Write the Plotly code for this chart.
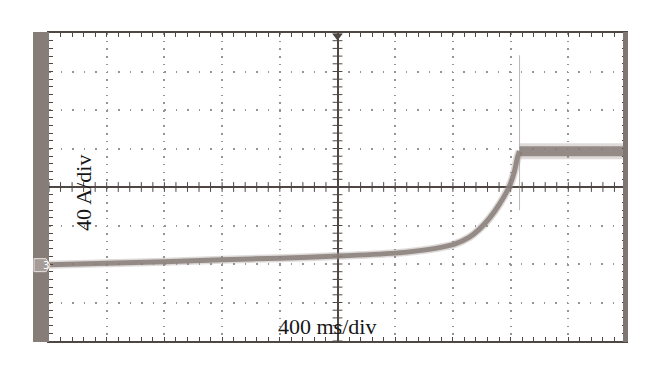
import numpy as np
import plotly.graph_objects as go

# ---- data ----
A_PER_DIV = 40          # A/div
MS_PER_DIV = 400        # ms/div
GROUND_DIV = -2.03      # channel-3 ground marker position (div from centre)

time_ms = [-2000, -1600, -1200, -800, -400, 0, 400, 568, 707, 811, 915, 984,
           1054, 1123, 1192, 1227, 1248, 1262]
current_a = [0.5, 2.1, 3.6, 5.7, 7.3, 9.4, 12.5, 15.1, 18.2, 21.8, 29.1, 37.4,
             48.8, 63.4, 82.1, 97.7, 112.2, 118.4]
steady_time_ms = [1262, 2000]
steady_current_a = [118.4, 118.4]
spike_time_ms = [1262, 1262]
spike_current_a = [57, 218]

off = GROUND_DIV * A_PER_DIV
y_ramp = [c + off for c in current_a]
y_steady = [c + off for c in steady_current_a]
y_spike = [c + off for c in spike_current_a]

XR = [-5 * MS_PER_DIV, 5 * MS_PER_DIV]
YR = [-4 * A_PER_DIV, 4 * A_PER_DIV]

AX = "#4f4744"
GRID = "#9b9391"
TRACE_CORE = "rgba(135,125,120,0.85)"
TRACE_HALO = "rgba(160,150,146,0.35)"

fig = go.Figure()

# centre crosshair tick marks
cx = np.arange(XR[0], XR[1] + 1, MS_PER_DIV / 5)
cy = np.arange(YR[0], YR[1] + 1, A_PER_DIV / 5)
fig.add_trace(go.Scatter(x=cx, y=np.zeros_like(cx), mode="markers",
                         marker=dict(symbol="line-ns", size=7, line=dict(width=1, color=AX)),
                         hoverinfo="skip", showlegend=False))
fig.add_trace(go.Scatter(x=np.zeros_like(cy), y=cy, mode="markers",
                         marker=dict(symbol="line-ew", size=7, line=dict(width=1, color=AX)),
                         hoverinfo="skip", showlegend=False))

# trace: halo + core
fig.add_trace(go.Scatter(x=time_ms, y=y_ramp, mode="lines",
                         line=dict(color=TRACE_HALO, width=8, shape="spline", smoothing=0.6),
                         hoverinfo="skip", showlegend=False))
fig.add_trace(go.Scatter(x=time_ms, y=y_ramp, mode="lines",
                         line=dict(color=TRACE_CORE, width=5, shape="spline", smoothing=0.6),
                         showlegend=False))
fig.add_trace(go.Scatter(x=spike_time_ms, y=y_spike, mode="lines",
                         line=dict(color="rgba(150,140,135,0.6)", width=1),
                         hoverinfo="skip", showlegend=False))
fig.add_trace(go.Scatter(x=steady_time_ms, y=y_steady, mode="lines",
                         line=dict(color=TRACE_HALO, width=16),
                         hoverinfo="skip", showlegend=False))
fig.add_trace(go.Scatter(x=steady_time_ms, y=y_steady, mode="lines",
                         line=dict(color=TRACE_CORE, width=10),
                         showlegend=False))

# trigger marker at top centre
fig.add_trace(go.Scatter(x=[0], y=[YR[1] - 3], mode="markers", cliponaxis=False,
                         marker=dict(symbol="triangle-down", size=9, color=AX),
                         hoverinfo="skip", showlegend=False))

axis_common = dict(showticklabels=False, showline=True, linecolor=AX, linewidth=1.5,
                   mirror="ticks", ticks="inside", ticklen=4, tickcolor=AX, tickwidth=1,
                   showgrid=True, gridcolor=GRID, gridwidth=1.5,
                   zeroline=True, zerolinecolor=AX, zerolinewidth=1.5, fixedrange=True)

fig.update_xaxes(range=XR, dtick=MS_PER_DIV, tick0=0, griddash="1.5px,6.2px",
                 minor=dict(dtick=MS_PER_DIV / 5, ticks="inside", ticklen=4, tickcolor=AX,
                            showgrid=False),
                 **axis_common)
fig.update_yaxes(range=YR, dtick=A_PER_DIV, tick0=0, griddash="1.5px,10px",
                 minor=dict(dtick=A_PER_DIV / 5, ticks="inside", ticklen=4, tickcolor=AX,
                            showgrid=False),
                 **axis_common)

W = 577.0
H = 308.0
shapes = [
    # left grey band
    dict(type="rect", xref="paper", yref="paper", x0=-16 / W, x1=0, y0=-1 / H, y1=1 + 1 / H,
         fillcolor="#877d78", line=dict(width=0), layer="above"),
    # right grey band
    dict(type="rect", xref="paper", yref="paper", x0=-3 / W + 1, x1=1 + 2 / W, y0=-1 / H, y1=1 + 1 / H,
         fillcolor="#7f7672", line=dict(width=0), layer="above"),
]
# channel 3 ground badge
gy = GROUND_DIV * A_PER_DIV
dy = 6.5 / 38.5 * A_PER_DIV
x0 = -15 / W
x1 = -3 / W
x2 = 1 / W
shapes.append(dict(type="path", xref="paper", yref="y",
                   path=f"M{x0},{gy - dy} L{x1},{gy - dy} L{x2},{gy} L{x1},{gy + dy} L{x0},{gy + dy} Z",
                   fillcolor="#a59c98", line=dict(color="#e8e4e2", width=1), layer="above"))

# page body has an 8px margin, so the figure is 8px smaller on the left/top
fig.update_layout(
    width=652, height=366,
    margin=dict(l=41, r=34, t=25, b=33),
    paper_bgcolor="white", plot_bgcolor="white",
    shapes=shapes,
    annotations=[
        dict(text="3", xref="paper", yref="y", x=-8 / W, y=gy, showarrow=False,
             font=dict(family="DejaVu Sans", size=10, color="white")),
        dict(text="40 A/div", xref="paper", yref="paper", x=(84 - 49) / W, y=(341 - 193) / H,
             xanchor="center", yanchor="middle",
             textangle=-90, showarrow=False,
             font=dict(family="Liberation Serif", size=22, color="#161616")),
        dict(text="400 ms/div", xref="paper", yref="paper", x=(327 - 49) / W, y=(341 - 326) / H,
             xanchor="center", yanchor="middle",
             showarrow=False,
             font=dict(family="Liberation Serif", size=22, color="#161616")),
    ],
)

fig.write_html("out.html")
